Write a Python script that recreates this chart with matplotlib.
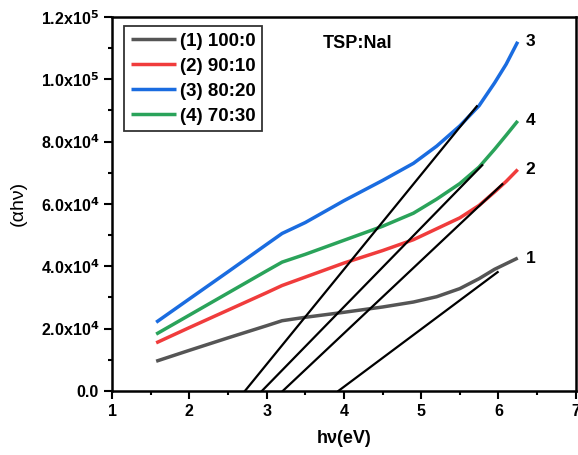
import matplotlib
matplotlib.use('Agg')
import matplotlib.pyplot as plt
from matplotlib.ticker import MultipleLocator, FuncFormatter

plt.rcParams['font.family'] = ['Liberation Sans', 'DejaVu Sans']

# photon energy (eV) and (alpha h nu) values, in units of 1e3
hv = [1.57, 2.0, 2.5, 3.0, 3.2, 3.5, 4.0, 4.5, 4.9, 5.2, 5.5, 5.75, 5.95, 6.1, 6.25]
y_100_0 = [9.5, 13.0, 17.0, 20.9, 22.5, 23.6, 25.2, 26.9, 28.5, 30.2, 32.8, 36.0, 39.0, 40.8, 42.6]
y_90_10 = [15.4, 20.3, 25.9, 31.5, 33.8, 36.5, 41.0, 45.0, 48.5, 52.0, 55.5, 59.5, 63.8, 67.2, 71.0]
y_80_20 = [22.0, 29.5, 38.2, 47.0, 50.5, 54.0, 61.0, 67.5, 73.0, 78.5, 85.0, 91.5, 98.8, 104.8, 112.0]
y_70_30 = [18.2, 24.3, 31.4, 38.5, 41.3, 43.8, 48.3, 52.8, 57.0, 61.5, 66.5, 71.8, 77.5, 82.0, 86.6]

labels = ['(1) 100:0', '(2) 90:10', '(3) 80:20', '(4) 70:30']
tags = ['1', '2', '3', '4']
colors = ['#555555', '#f03c3c', '#1a6ce0', '#2aa35a']

# tangent (extrapolation) lines: x-intercept and end point
fit_x0 = [3.93, 3.21, 2.72, 2.94]
fit_x1 = [5.99, 6.05, 5.72, 5.79]
fit_y1 = [38.1, 66.3, 91.3, 72.4]

series = [y_100_0, y_90_10, y_80_20, y_70_30]

fig = plt.figure(figsize=(5.78, 4.55), dpi=100)
ax = fig.add_axes([0.194, 0.141, 0.802, 0.822])

for ys, lab, col in zip(series, labels, colors):
    ax.plot(hv, [v * 1e3 for v in ys], color=col, lw=2.5, label=lab, solid_capstyle='butt')

for x0, x1, y1 in zip(fit_x0, fit_x1, fit_y1):
    ax.plot([x0, x1], [0, y1 * 1e3], color='black', lw=1.6)

for ys, tag in zip(series, tags):
    ax.text(hv[-1] + 0.1, ys[-1] * 1e3, tag, fontsize=12.5, fontweight='bold', va='center', ha='left')

ax.text(3.72, 111.5e3, 'TSP:NaI', fontsize=13, fontweight='bold', va='center')

ax.set_xlim(1, 7)
ax.set_ylim(0, 1.2e5)
ax.xaxis.set_major_locator(MultipleLocator(1))
ax.xaxis.set_minor_locator(MultipleLocator(0.5))
ax.yaxis.set_major_locator(MultipleLocator(2e4))
ax.yaxis.set_minor_locator(MultipleLocator(1e4))


def sci_fmt(v, pos):
    if v == 0:
        return '0.0'
    exp = int(f'{v:e}'.split('e')[1])
    mant = v / 10 ** exp
    return r'%.1fx10$^{%d}$' % (mant, exp)


ax.yaxis.set_major_formatter(FuncFormatter(sci_fmt))
ax.tick_params(axis='both', which='major', direction='out', length=6, width=1.5, labelsize=11.5)
ax.tick_params(axis='both', which='minor', direction='out', length=3, width=1.5)
for lbl in ax.get_xticklabels() + ax.get_yticklabels():
    lbl.set_fontweight('bold')
for sp in ax.spines.values():
    sp.set_linewidth(1.8)

plt.rcParams['mathtext.default'] = 'bf'
ax.set_xlabel('hν(eV)', fontsize=13, fontweight='bold', labelpad=8)
ax.set_ylabel('(αhν)', fontsize=14, labelpad=10)

leg = ax.legend(loc='upper left', bbox_to_anchor=(0.018, 0.985),
                prop={'weight': 'bold', 'size': 13.5}, frameon=True, fancybox=False,
                edgecolor='black', handlelength=2.4, handletextpad=0.2,
                borderpad=0.35, labelspacing=0.42, borderaxespad=0.2)
leg.get_frame().set_linewidth(1.3)

fig.savefig('out.png', dpi=100)
